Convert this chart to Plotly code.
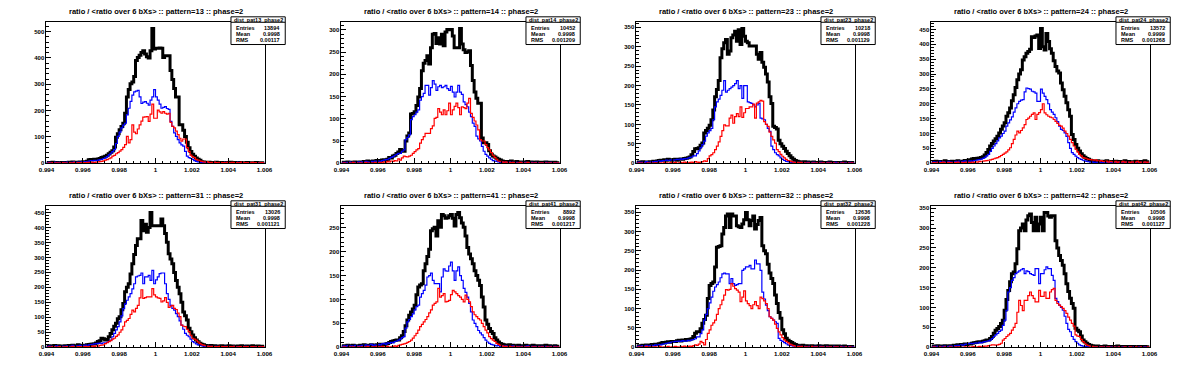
import numpy as np
import plotly.graph_objects as go

# ---------------- data ----------------
X_MIN, X_MAX, N_BINS = 0.994, 1.006, 120
x_tick_vals = [0.994, 0.996, 0.998, 1.0, 1.002, 1.004, 1.006]
x_tick_labels = ["0.994", "0.996", "0.998", "1", "1.002", "1.004", "1.006"]

patterns = ["13", "14", "23", "24", "31", "41", "32", "42"]
entries = ["13894", "10452", "10218", "13572", "13026", "8892", "12636", "10506"]
means = ["0.9998", "0.9998", "0.9998", "0.9999", "0.9998", "0.9998", "0.9998", "0.9998"]
rms_vals = ["0.00117", "0.001209", "0.001129", "0.001268", "0.001121", "0.001217", "0.001228", "0.001127"]
y_dticks = [100, 50, 50, 50, 50, 50, 50, 50]

black_13 = [2,3,1,4,2,3,2,1,3,2, 3,2,4,3,5,2,4,3,5,4, 6,5,8,13,14,13,15,14,16,18,
            22,24,27,30,36,42,47,62,99,112, 127,140,152,190,252,280,302,309,330,390,
            402,410,421,427,415,405,400,427,512,434, 437,437,438,437,402,408,408,408,352,318,
            284,252,252,146,146,125,102,80,59,45, 34,27,20,15,11,6,5,4,3,4,
            2,3,2,4,3,2,3,1,2,3, 2,4,1,3,2,2,3,1,2,2, 3,1,2,2,1,3,2,1,2,1]
blue_13 = [2,3,1,2,4,2,3,1,2,3, 2,4,3,2,3,5,2,4,3,5, 4,6,5,8,10,9,11,10,12,14,
           15,18,20,25,32,38,44,52,75,102, 118,134,145,152,184,209,235,259,271,274,
           277,252,227,232,234,228,221,240,252,280, 252,240,225,209,212,215,208,205,159,140,
           115,102,90,77,70,65,45,27,21,18, 15,10,7,5,4,3,2,3,2,1,
           2,1,3,2,1,2,2,1,3,1, 2,1,1,2,1,3,1,2,1,1, 2,1,1,2,1,1,2,1,1,2]
red_13 = [0,1,0,2,0,1,1,0,2,1, 1,0,2,1,1,3,0,2,1,2, 2,1,3,2,4,3,2,4,5,6,
          7,9,12,14,17,20,27,30,36,40, 46,52,60,71,102,77,90,146,118,112,
          130,146,160,175,176,177,159,187,225,171, 171,202,195,190,196,190,187,190,155,140,
          134,122,109,95,84,92,92,59,45,31, 25,21,15,12,9,7,5,4,6,3,
          2,3,4,2,1,3,2,2,1,3, 2,1,3,2,2,1,2,4,1,2, 1,2,1,3,1,2,1,1,2,1]

black_14 = [1,2,0,3,1,2,1,3,2,1, 3,2,4,3,5,4,3,5,4,6, 5,6,7,8,7,9,13,12,16,18,
            22,25,31,29,27,50,61,68,111,112, 116,130,149,168,208,225,231,242,223,260,
            290,292,269,282,268,290,264,295,301,300, 301,286,260,260,260,303,268,255,249,250,
            253,220,186,160,146,135,135,57,46,46, 42,28,20,16,14,11,9,7,5,4,
            3,4,2,5,3,2,4,3,2,3, 2,3,4,2,3,1,2,3,1,2, 2,1,3,1,2,2,1,2,1,1]
blue_14 = [1,2,1,2,3,1,2,2,1,3, 2,3,2,4,3,2,4,3,5,4, 5,4,6,7,8,9,11,13,15,18,
           20,22,22,27,30,53,58,64,98,105, 109,115,120,142,150,157,175,175,153,170,
           186,178,164,172,175,170,172,175,168,164, 173,160,149,160,175,160,155,138,132,127,
           115,105,90,83,61,55,50,38,27,20, 16,12,9,6,5,4,3,2,3,2,
           1,2,3,1,2,1,2,1,1,2, 1,2,1,1,2,1,1,2,1,1, 1,1,2,1,1,2,1,1,1,1]
red_14 = [0,1,0,0,1,0,2,0,1,0, 1,0,1,2,0,1,1,0,2,1, 1,2,1,3,2,4,3,5,4,6,
          5,10,7,12,16,15,14,16,18,22, 26,30,33,45,53,60,67,67,67,78,
          84,101,103,123,115,109,120,109,118,135, 109,120,128,135,125,109,127,125,123,135,
          146,112,103,95,86,75,53,50,50,42, 35,30,24,18,13,9,5,4,3,2,
          3,1,2,1,2,1,0,1,2,1, 1,0,2,1,1,0,1,1,0,1, 1,0,1,0,1,1,0,1,0,1]

black_23 = [2,3,1,4,3,2,3,4,2,5, 4,6,7,8,8,9,8,10,9,8, 9,10,8,10,11,10,12,13,14,16,
            22,30,37,38,40,46,52,78,84,90, 98,112,137,171,190,213,272,295,310,319,
            281,289,323,330,340,314,344,306,347,327, 314,310,302,302,302,302,281,268,285,260,
            247,230,209,171,154,95,92,88,59,50, 44,38,31,25,19,14,10,7,5,4,
            3,2,4,2,3,1,2,3,2,1, 2,3,1,2,2,1,3,2,1,2, 1,2,2,1,3,1,2,1,2,1]
blue_23 = [2,3,1,3,2,4,3,2,4,3, 5,4,6,5,7,6,8,7,8,9, 8,9,10,9,11,10,12,11,13,15,
           16,19,19,25,32,40,48,57,70,78, 84,90,112,145,158,165,175,188,213,183,
           188,192,196,200,205,213,192,200,167,200, 200,158,156,154,150,145,150,154,116,114,
           112,100,90,82,44,35,27,22,19,14, 10,7,5,4,3,2,3,2,1,2,
           1,2,1,1,2,1,1,2,1,1, 1,2,1,1,1,2,1,1,1,2, 1,1,2,1,1,1,1,2,1,1]
red_23 = [0,1,0,1,0,0,1,0,1,0, 1,0,1,1,0,2,1,0,1,2, 1,2,0,1,2,1,3,2,1,2,
          3,2,4,3,2,3,4,6,5,12, 19,22,27,35,44,55,69,84,99,96,
          96,116,124,103,120,128,120,145,118,130, 141,141,145,145,152,116,155,158,162,160,
          107,100,95,80,69,60,52,35,30,23, 18,14,10,7,6,4,3,2,2,1,
          2,1,1,0,1,1,0,1,0,1, 1,0,1,1,0,1,0,1,1,0, 0,1,0,1,0,0,1,0,1,0]

black_24 = [5,3,7,4,6,3,5,8,4,6, 5,7,4,6,8,5,7,6,9,8, 10,12,14,16,15,17,18,19,22,28,
            36,46,58,66,75,82,91,102,114,125, 136,158,170,186,210,230,255,281,300,314,
            347,358,370,376,383,425,423,428,431,386, 453,392,381,436,409,385,370,345,325,310,
            303,270,247,225,203,180,158,97,80,63, 50,41,32,25,20,16,13,10,8,7,
            6,8,5,7,4,6,8,5,3,6, 5,7,4,6,3,5,8,4,6,3, 5,4,7,3,5,6,4,8,3,5]
blue_24 = [3,5,2,4,6,3,5,4,2,6, 4,3,5,6,4,7,5,6,8,5, 7,8,6,9,10,11,12,14,16,20,
           25,30,40,50,58,66,75,85,91,100, 108,125,136,146,156,172,186,200,208,212,
           214,240,253,251,249,242,240,236,208,208, 249,236,225,214,200,180,172,164,153,140,
           125,114,110,102,90,69,50,36,30,24, 19,15,13,10,8,6,5,4,5,3,
           4,3,5,2,4,3,2,4,3,2, 3,2,4,3,2,3,4,2,3,2, 3,2,2,4,2,3,2,3,2,2]
red_24 = [1,2,0,3,1,2,4,1,2,3, 2,1,3,2,4,1,3,2,3,4, 3,2,4,3,5,4,6,5,7,8,
          9,10,11,13,15,17,19,22,26,30, 34,38,45,52,66,80,95,108,102,110,
          119,130,147,152,158,164,169,147,164,170, 180,200,169,163,158,155,153,147,141,134,
          127,125,118,108,100,91,80,69,58,47, 38,30,25,19,17,15,13,12,11,10,
          11,8,7,9,6,5,7,4,6,5, 4,6,3,5,4,6,3,5,4,3, 5,3,4,6,3,4,2,5,3,4]

black_31 = [3,5,2,4,6,3,5,2,4,3, 5,4,6,3,7,5,4,8,6,5, 7,6,8,9,10,11,12,14,19,22,
            30,28,24,26,35,46,58,70,80,95, 102,125,146,185,200,212,245,279,310,340,
            362,362,423,389,411,384,400,450,406,406, 406,406,406,428,406,380,351,312,295,279,
            250,223,200,179,150,118,105,91,63,52, 41,32,24,18,13,10,8,6,5,4,
            6,3,5,2,4,3,5,2,4,3, 5,2,4,3,2,4,3,5,2,3, 4,2,3,5,2,3,4,2,3,2]
blue_31 = [2,4,1,3,2,5,3,2,4,3, 3,5,2,4,6,3,5,4,6,5, 6,7,5,8,9,10,11,12,13,14,
           12,15,14,16,20,24,35,46,58,69, 85,105,129,145,157,168,179,195,212,235,
           238,240,248,212,235,235,240,223,257,212, 225,235,246,248,248,212,179,160,140,130,
           124,112,102,88,74,60,46,40,35,27, 19,15,11,8,6,5,4,3,4,2,
           3,2,1,3,2,2,1,2,3,1, 2,1,2,3,1,2,1,2,1,3, 1,2,2,1,2,1,2,1,2,1]
red_31 = [0,1,0,2,1,0,1,2,0,1, 1,2,0,1,3,1,0,2,1,2, 1,3,2,2,3,4,3,5,4,6,
          7,8,12,15,19,22,27,30,36,41, 50,58,70,85,90,96,110,124,118,130,
          140,165,192,163,166,168,168,168,196,175, 168,165,163,151,155,166,150,133,137,140,
          130,126,114,102,74,70,69,60,52,40, 30,27,24,18,13,9,7,5,4,3,
          2,3,2,1,2,3,1,2,1,2, 1,2,1,3,1,1,2,1,2,1, 2,1,1,2,1,1,2,1,1,2]

black_41 = [2,3,1,4,2,3,4,2,3,2, 4,3,5,2,4,3,5,4,3,5, 4,6,5,5,7,8,10,12,13,14,
            15,15,20,24,33,45,57,67,74,80, 88,110,126,130,133,160,175,190,205,244,
            248,251,233,265,251,278,275,270,271,275, 278,270,254,278,282,271,260,251,233,209,
            195,185,175,160,150,140,129,105,84,57, 48,39,33,29,20,15,11,8,6,5,
            4,3,5,2,4,3,2,4,3,2, 3,4,2,3,2,4,3,2,3,2, 3,2,4,2,3,2,2,3,2,2]
blue_41 = [2,3,2,4,2,3,1,4,3,2, 3,4,2,5,3,4,6,4,5,3, 6,5,7,8,6,9,8,10,9,12,
           13,15,17,20,22,40,53,58,64,70, 78,85,88,105,112,119,130,147,150,155,
           140,133,133,133,116,147,164,160,159,170, 178,160,140,160,168,150,140,123,115,105,
           92,74,57,50,43,35,30,26,20,15, 11,8,6,5,4,3,4,2,3,2,
           3,2,1,2,3,1,2,2,1,2, 1,2,3,1,2,1,2,1,2,1, 2,1,2,1,1,2,1,2,1,1]
red_41 = [0,1,0,0,1,0,1,0,0,1, 0,1,1,0,2,0,1,1,0,2, 1,0,2,1,1,2,0,1,2,3,
          2,4,5,6,7,8,10,12,15,19, 24,29,36,43,48,53,58,64,72,78,
          88,92,95,123,105,108,112,95,96,98, 110,119,116,112,108,105,100,95,109,100,
          95,85,74,68,64,60,57,50,43,36, 30,22,18,15,12,8,6,4,3,2,
          2,1,2,1,0,2,1,1,0,1, 1,0,1,1,0,1,1,0,1,0, 1,0,0,1,0,1,0,1,0,1]

black_32 = [3,4,2,5,3,6,4,5,7,6, 8,7,9,10,12,11,13,14,13,15, 15,15,17,18,16,19,18,20,19,21,
            22,28,36,40,40,48,62,72,83,126, 160,165,169,208,259,261,263,293,310,340,
            345,310,345,340,340,315,312,310,319,330, 349,330,315,328,340,306,318,328,336,263,
            250,242,215,192,178,165,135,113,90,75, 45,35,23,18,15,12,9,7,5,4,
            3,5,2,4,3,2,4,3,2,3, 4,2,3,2,4,3,2,3,2,3, 2,3,2,2,3,2,1,2,2,1]
blue_32 = [2,3,2,4,3,5,3,4,5,4, 6,5,7,6,8,9,10,11,12,13, 14,15,15,16,15,17,16,16,18,17,
           19,20,22,27,27,35,45,70,85,100, 115,130,145,156,162,169,180,190,192,190,
           190,165,178,165,160,162,165,165,199,203, 208,208,212,203,203,226,216,216,199,143,
           125,109,95,79,75,70,66,62,23,18, 15,12,9,6,5,4,3,2,3,2,
           2,1,2,1,1,2,1,1,2,1, 1,2,1,1,2,1,1,1,2,1, 1,1,2,1,1,1,2,1,1,1]
red_32 = [0,1,0,1,0,2,0,1,1,0, 1,0,2,1,0,1,1,2,0,1, 1,2,1,0,2,1,3,1,2,3,
          2,4,6,5,8,15,12,6,20,36, 45,57,63,70,85,100,110,122,135,149,
          148,150,165,158,152,148,143,118,130,146, 120,113,108,100,110,118,108,100,130,126,
          120,113,100,79,75,70,60,49,40,32, 25,19,15,12,8,6,4,3,2,2,
          1,2,1,1,0,1,2,0,1,1, 0,1,1,0,1,0,1,1,0,1, 1,0,1,0,0,1,0,1,0,0]

black_42 = [2,3,1,4,2,3,2,4,3,2, 4,3,5,4,6,5,7,6,8,7, 8,8,10,11,12,13,14,14,15,16,
            18,18,22,27,35,43,47,52,60,68, 93,120,143,165,185,189,210,248,293,300,
            310,293,320,331,335,314,293,327,293,310, 327,293,339,339,330,327,331,331,268,250,
            231,218,206,185,160,140,123,110,98,48, 43,39,28,18,14,10,7,5,4,3,
            2,3,2,1,2,3,1,2,2,1, 2,1,3,1,2,1,2,1,1,2, 1,2,1,1,2,1,1,2,1,1]
blue_42 = [1,2,1,3,2,1,2,3,2,2, 3,2,4,3,5,4,6,5,7,8, 9,10,9,10,11,10,12,11,13,14,
           15,16,18,22,27,31,35,40,43,55, 68,93,139,150,168,175,185,189,192,195,
           198,185,192,190,185,183,181,198,198,160, 185,185,195,202,198,198,181,168,123,115,
           106,100,93,78,60,45,39,27,20,14, 10,6,4,3,2,2,1,2,1,1,
           1,0,1,1,0,1,1,0,1,0, 1,0,0,1,0,1,0,0,1,0, 0,1,0,0,1,0,0,1,0,0]
red_42 = [0,1,0,0,1,0,0,1,0,0, 1,0,0,1,0,1,0,0,1,0, 1,0,1,2,0,1,2,1,2,3,
          3,4,5,6,6,5,6,7,10,18, 22,27,31,35,43,50,60,88,118,105,
          92,118,118,130,139,130,123,114,114,143, 128,128,139,123,123,139,145,148,118,110,
          106,102,98,92,85,76,68,60,53,31, 28,27,20,14,10,6,4,3,2,1,
          1,1,0,1,0,1,0,1,0,0, 1,0,0,1,0,0,1,0,0,1, 0,0,1,0,0,1,0,0,0,1]

black_series = [black_13, black_14, black_23, black_24, black_31, black_41, black_32, black_42]
blue_series = [blue_13, blue_14, blue_23, blue_24, blue_31, blue_41, blue_32, blue_42]
red_series = [red_13, red_14, red_23, red_24, red_31, red_41, red_32, red_42]

# ---------------- layout geometry (pixels) ----------------
W, H = 1196, 372
PAD_W, PAD_H = 299, 186
FR_L, FR_R, FR_T, FR_B = 39, 260, 21, 164
BOX_L, BOX_R, BOX_T, BOX_SEP, BOX_B = 226, 281, 16, 21.5, 44

FONT = "Liberation Sans, Arial, Helvetica, sans-serif"


def px(x):
    return x / W


def py(y):
    return 1 - y / H


edges = np.round(X_MIN + (X_MAX - X_MIN) / N_BINS * np.arange(N_BINS + 1), 6)

fig = go.Figure()
shapes = []
annotations = []
layout_axes = {}

for k in range(8):
    col, row = k % 4, k // 4
    ox, oy = col * PAD_W, row * PAD_H
    n = k + 1
    xa = "x" if n == 1 else f"x{n}"
    ya = "y" if n == 1 else f"y{n}"

    for vals, color, width in ((black_series[k], "#000000", 3),
                               (blue_series[k], "#0000ff", 1.2),
                               (red_series[k], "#ff0000", 1.2)):
        yv = list(vals) + [vals[-1]]
        fig.add_trace(go.Scatter(x=edges, y=yv, mode="lines", line_shape="hv",
                                 line=dict(color=color, width=width),
                                 xaxis=xa, yaxis=ya, showlegend=False,
                                 hoverinfo="skip"))

    ymax = 1.05 * max(black_series[k])
    xkey = "xaxis" if n == 1 else f"xaxis{n}"
    ykey = "yaxis" if n == 1 else f"yaxis{n}"
    layout_axes[xkey] = dict(
        domain=[px(ox + FR_L), px(ox + FR_R)], anchor=ya, range=[X_MIN, X_MAX],
        tickvals=x_tick_vals, ticktext=x_tick_labels, ticks="inside", ticklen=5,
        tickwidth=1, tickcolor="black", showline=True, mirror=True,
        linecolor="black", linewidth=1, showgrid=False, zeroline=False,
        tickfont=dict(family=FONT, size=6.2, color="black", weight="bold"),
        minor=dict(ticks="inside", ticklen=2.5, dtick=0.0004, tick0=X_MIN,
                   tickcolor="black", showgrid=False),
        fixedrange=True)
    layout_axes[ykey] = dict(
        domain=[py(oy + FR_B), py(oy + FR_T)], anchor=xa, range=[0, ymax],
        dtick=y_dticks[k], tick0=0, ticks="inside", ticklen=5, tickwidth=1,
        tickcolor="black", showline=True, mirror=True, linecolor="black",
        linewidth=1, showgrid=False, zeroline=False,
        tickfont=dict(family=FONT, size=6, color="black", weight="bold"),
        minor=dict(ticks="inside", ticklen=2.5, dtick=y_dticks[k] / 5,
                   tickcolor="black", showgrid=False),
        fixedrange=True)

    # title
    annotations.append(dict(
        text=f"ratio / &lt;ratio over 6 bXs&gt; :: pattern={patterns[k]} :: phase=2",
        x=px(ox + PAD_W / 2), y=py(oy + 11), xref="paper", yref="paper",
        showarrow=False, xanchor="center", yanchor="middle",
        font=dict(family=FONT, size=7.5, color="black", weight="bold")))

    # stats box
    shapes.append(dict(type="rect", xref="paper", yref="paper",
                       x0=px(ox + BOX_L), x1=px(ox + BOX_R),
                       y0=py(oy + BOX_B), y1=py(oy + BOX_T),
                       fillcolor="white", line=dict(color="black", width=1),
                       layer="above"))
    shapes.append(dict(type="line", xref="paper", yref="paper",
                       x0=px(ox + BOX_L), x1=px(ox + BOX_R),
                       y0=py(oy + BOX_SEP), y1=py(oy + BOX_SEP),
                       line=dict(color="black", width=1), layer="above"))
    sfont = dict(family=FONT, size=5.5, color="black", weight="bold")
    annotations.append(dict(
        text=f"dist_pat{patterns[k]}_phase2", x=px(ox + (BOX_L + BOX_R) / 2),
        y=py(oy + 18.8), xref="paper", yref="paper", showarrow=False,
        xanchor="center", yanchor="middle", font=sfont))
    for label, value, yy in (("Entries", entries[k], 27),
                             ("Mean", means[k], 33.3),
                             ("RMS", rms_vals[k], 39.6)):
        annotations.append(dict(text=label, x=px(ox + BOX_L + 3), y=py(oy + yy),
                                xref="paper", yref="paper", showarrow=False,
                                xanchor="left", yanchor="middle", font=sfont))
        annotations.append(dict(text=value, x=px(ox + BOX_R - 3), y=py(oy + yy),
                                xref="paper", yref="paper", showarrow=False,
                                xanchor="right", yanchor="middle", font=sfont))

fig.update_layout(
    width=W, height=H, margin=dict(l=0, r=0, t=0, b=0),
    paper_bgcolor="white", plot_bgcolor="white", showlegend=False,
    shapes=shapes, annotations=annotations, **layout_axes)

fig.write_html("out.html", config={"displayModeBar": False},
               post_script="document.body.style.margin='0';document.body.style.padding='0';")
